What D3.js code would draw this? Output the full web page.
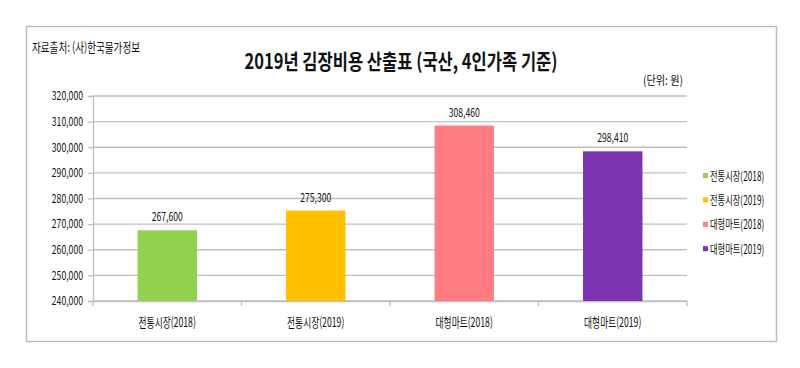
<!DOCTYPE html>
<html>
<head>
<meta charset="utf-8">
<script src="https://cdn.jsdelivr.net/npm/d3@7"></script>
<style>
    body { margin: 0; background: #fff; }
    text { font-family: "Noto Sans CJK KR", "Noto Sans", sans-serif; fill: #111; }
</style>
</head>
<body>
<script>
var categories = ["전통시장(2018)", "전통시장(2019)", "대형마트(2018)", "대형마트(2019)"];
var values = [267600, 275300, 308460, 298410];
var colors = ["#92d050", "#ffc000", "#ff7c80", "#7b33b0"];
var yTicks = [240000, 250000, 260000, 270000, 280000, 290000, 300000, 310000, 320000];

var svgWidth = 800;
var svgHeight = 368;
var plot = { left: 93, right: 687, top: 96, bottom: 301 };

// the original uses a narrow font, so squeeze the text horizontally
function squeeze(sel, k) {
    sel.each(function () {
        let w = this.getComputedTextLength();
        d3.select(this)
            .attr("textLength", w * k)
            .attr("lengthAdjust", "spacingAndGlyphs");
    });
}

let svg = d3.select("body")
    .append("svg")
    .attr("width", svgWidth)
    .attr("height", svgHeight);

// outer frame
svg.append("rect")
    .attr("x", 26.5)
    .attr("y", 26.5)
    .attr("width", 750)
    .attr("height", 315)
    .attr("fill", "none")
    .attr("stroke", "#bdbdbd")
    .attr("stroke-width", 1.5);

let x = d3.scaleBand()
    .domain(categories)
    .range([plot.left, plot.right])
    .paddingInner(0.6)
    .paddingOuter(0.3);

let y = d3.scaleLinear()
    .domain([240000, 320000])
    .range([plot.bottom, plot.top]);

// gridlines
svg.selectAll("line.grid")
    .data(yTicks)
    .enter()
    .append("line")
    .attr("class", "grid")
    .attr("x1", plot.left)
    .attr("x2", plot.right)
    .attr("y1", (d) => y(d))
    .attr("y2", (d) => y(d))
    .attr("stroke", "#bfbfbf")
    .attr("stroke-width", 1.3);

// y axis
let yAxis = svg.append("g")
    .attr("transform", "translate(" + plot.left + ",0)")
    .call(d3.axisLeft(y).tickValues(yTicks).tickFormat(d3.format(",")).tickSize(5).tickPadding(5));
yAxis.select(".domain").attr("stroke", "#bfbfbf").attr("stroke-width", 1.3);
yAxis.selectAll(".tick line").attr("stroke", "#bfbfbf").attr("stroke-width", 1.3);
yAxis.selectAll(".tick text")
    .attr("font-size", "12px")
    .attr("fill", "#111");
squeeze(yAxis.selectAll(".tick text"), 0.72);

// x axis
let xAxis = svg.append("g")
    .attr("transform", "translate(0," + plot.bottom + ")")
    .call(d3.axisBottom(x).tickSize(0).tickPadding(17));
xAxis.select(".domain").attr("stroke", "#bfbfbf").attr("stroke-width", 1.3);
xAxis.selectAll(".tick text")
    .attr("font-size", "13px")
    .attr("fill", "#111");
squeeze(xAxis.selectAll(".tick text"), 0.67);

// category divider ticks
let bounds = d3.range(categories.length + 1).map((i) => plot.left + i * x.step());
svg.selectAll("line.cat")
    .data(bounds)
    .enter()
    .append("line")
    .attr("class", "cat")
    .attr("x1", (d) => d)
    .attr("x2", (d) => d)
    .attr("y1", plot.bottom)
    .attr("y2", plot.bottom + 5)
    .attr("stroke", "#bfbfbf")
    .attr("stroke-width", 1.3);

// bars
svg.selectAll("rect.bar")
    .data(values)
    .enter()
    .append("rect")
    .attr("class", "bar")
    .attr("x", (d, i) => x(categories[i]))
    .attr("y", (d) => y(d))
    .attr("width", x.bandwidth())
    .attr("height", (d) => plot.bottom - y(d))
    .attr("fill", (d, i) => colors[i]);

// value labels
let labels = svg.selectAll("text.val")
    .data(values)
    .enter()
    .append("text")
    .attr("class", "val")
    .text((d) => d3.format(",")(d))
    .attr("x", (d, i) => x(categories[i]) + x.bandwidth() / 2)
    .attr("y", (d) => y(d) - 9)
    .attr("text-anchor", "middle")
    .attr("font-size", "12px");
squeeze(labels, 0.72);

// title
svg.append("text")
    .text("2019년 김장비용 산출표 (국산, 4인가족 기준)")
    .attr("x", 401)
    .attr("y", 69)
    .attr("text-anchor", "middle")
    .attr("font-size", "21px")
    .attr("font-weight", "bold")
    .attr("textLength", 313)
    .attr("lengthAdjust", "spacingAndGlyphs");

// source
svg.append("text")
    .text("자료출처: (사)한국물가정보")
    .attr("x", 32)
    .attr("y", 52)
    .attr("font-size", "13px")
    .attr("textLength", 108)
    .attr("lengthAdjust", "spacingAndGlyphs");

// unit
svg.append("text")
    .text("(단위: 원)")
    .attr("x", 683)
    .attr("y", 85)
    .attr("text-anchor", "end")
    .attr("font-size", "12px")
    .attr("textLength", 40)
    .attr("lengthAdjust", "spacingAndGlyphs");

// legend
let legend = svg.selectAll("g.legend")
    .data(categories)
    .enter()
    .append("g")
    .attr("class", "legend")
    .attr("transform", (d, i) => "translate(703," + (176 + i * 24.4) + ")");

legend.append("rect")
    .attr("x", 0)
    .attr("y", -3)
    .attr("width", 5)
    .attr("height", 5)
    .attr("fill", (d, i) => colors[i]);

let legendText = legend.append("text")
    .text((d) => d)
    .attr("x", 7)
    .attr("y", 4.5)
    .attr("font-size", "12.5px");
squeeze(legendText, 0.66);
</script>
</body>
</html>
